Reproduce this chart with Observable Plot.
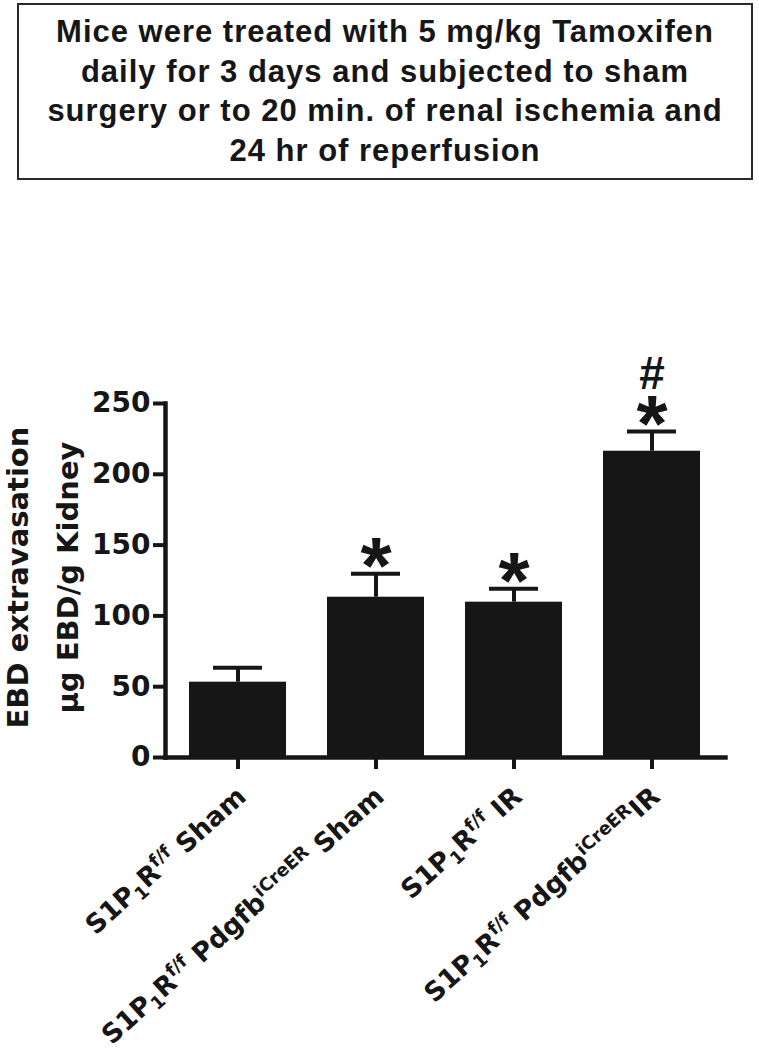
<!DOCTYPE html>
<html><head><meta charset="utf-8">
<script src="https://cdn.jsdelivr.net/npm/d3@7"></script>
<script src="https://cdn.jsdelivr.net/npm/@observablehq/plot@0.6"></script>
<style>
body{margin:0;background:#fff;width:759px;height:1050px;position:relative;overflow:hidden;}
#title{position:absolute;left:17px;top:3px;width:736px;height:177px;box-sizing:border-box;border:2px solid #2a2a2a;font-family:"Liberation Sans",Arial,sans-serif;font-weight:bold;font-size:31px;letter-spacing:1px;line-height:39.7px;text-align:center;color:#161616;padding-top:7px;}
#chart{position:absolute;left:0;top:200px;}
</style></head><body>
<div id="title"></div>
<div id="chart"></div>
<script>
const titleLines = [
  "Mice were treated with 5 mg/kg Tamoxifen",
  "daily for 3 days and subjected to sham",
  "surgery or to 20 min. of renal ischemia and",
  "24 hr of reperfusion"
];
const groups = [
  "S1P_{1}R^{f/f} Sham",
  "S1P_{1}R^{f/f} Pdgfb^{iCreER} Sham",
  "S1P_{1}R^{f/f} IR",
  "S1P_{1}R^{f/f} Pdgfb^{iCreER}IR"
];
const means = [53.2, 113.2, 109.7, 216.3];
const errors = [10.1, 16.5, 9.4, 13.9];
const marks = ["", "*", "*", "#\n*"];
const yTicks = [0, 50, 100, 150, 200, 250];
const yLabel1 = "EBD extravasation";
const yLabel2 = "µg EBD/g Kidney";

const titleEl = document.getElementById("title");
for (const l of titleLines) { const d = document.createElement("div"); d.textContent = l; titleEl.appendChild(d); }

const data = groups.map((g, i) => ({group: g, mean: means[i], top: means[i] + errors[i], sig: marks[i]}));
const ink = "#161616";
const plot = Plot.plot({
  width: 759, height: 850,
  marginLeft: 165, marginRight: 34, marginTop: 203, marginBottom: 293,
  style: {background: "#fff", color: ink, fontFamily: "'DejaVu Sans', sans-serif", overflow: "visible"},
  x: {type: "band", domain: groups, paddingInner: 0.295, paddingOuter: 0.17, label: null},
  y: {domain: [0, 250], label: null},
  marks: [
    Plot.barY(data, {x: "group", y: "mean", fill: ink}),
    Plot.ruleX(data, {x: "group", y1: "mean", y2: "top", stroke: ink, strokeWidth: 4}),
    Plot.tickY(data, {x: "group", y: "top", stroke: ink, strokeWidth: 4, inset: 24}),
    Plot.frame({anchor: "left", stroke: ink, strokeWidth: 4.5, strokeLinecap: "square"}),
    Plot.frame({anchor: "bottom", stroke: ink, strokeWidth: 4.5, strokeLinecap: "square"}),
    Plot.axisY({ticks: yTicks, tickSize: 12, tickPadding: 3, strokeWidth: 4, fontSize: 28, fontWeight: "bold", label: null, tickFormat: d => String(d)}),
    Plot.axisX({tickSize: 12, strokeWidth: 4, tickFormat: () => "", label: null}),
    Plot.text(data, {x: "group", frameAnchor: "bottom", text: "group", rotate: -42, textAnchor: "end", lineAnchor: "middle", dx: 4, dy: 35, fontSize: 26.5, fontWeight: "bold"}),
    Plot.text(data, {x: "group", y: "top", text: "sig", lineAnchor: "bottom", dy: 19, fontSize: 80, fontWeight: "bold", fontFamily: "'Liberation Sans', sans-serif"}),
    Plot.text([yLabel1], {frameAnchor: "left", text: d => d, rotate: -90, textAnchor: "middle", lineAnchor: "bottom", dx: -138, dy: -3, fontSize: 29, fontWeight: "bold"}),
    Plot.text([yLabel2], {frameAnchor: "left", text: d => d, rotate: -90, textAnchor: "middle", lineAnchor: "bottom", dx: -88, dy: -3, fontSize: 29, fontWeight: "bold"})
  ]
});
document.getElementById("chart").appendChild(plot);

// sub/superscripts in the category labels
d3.select(plot).selectAll("text").each(function() {
  const s = this.textContent;
  if (!/[_^]\{/.test(s) || this.querySelector("tspan")) return;
  const parts = s.split(/([_^]\{[^}]*\})/).filter(p => p);
  this.textContent = "";
  let shift = 0;
  for (const p of parts) {
    let target = 0, txt = p, small = false;
    if (p.startsWith("_{")) { target = 5; txt = p.slice(2, -1); small = true; }
    else if (p.startsWith("^{")) { target = -10; txt = p.slice(2, -1); small = true; }
    const t = d3.select(this).append("tspan").attr("dy", target - shift).text(txt);
    if (small) t.attr("font-size", 18);
    shift = target;
  }
});
// stacked "#" above "*": smaller hash line
d3.select(plot).selectAll("text").each(function() {
  const ts = this.querySelectorAll("tspan");
  if (ts.length === 2 && ts[0].textContent === "#") {
    ts[0].setAttribute("font-size", 46);
    ts[0].setAttribute("y", "-62");
    ts[1].removeAttribute("dy");
    ts[1].setAttribute("y", "0");
  }
});
</script>
</body></html>
